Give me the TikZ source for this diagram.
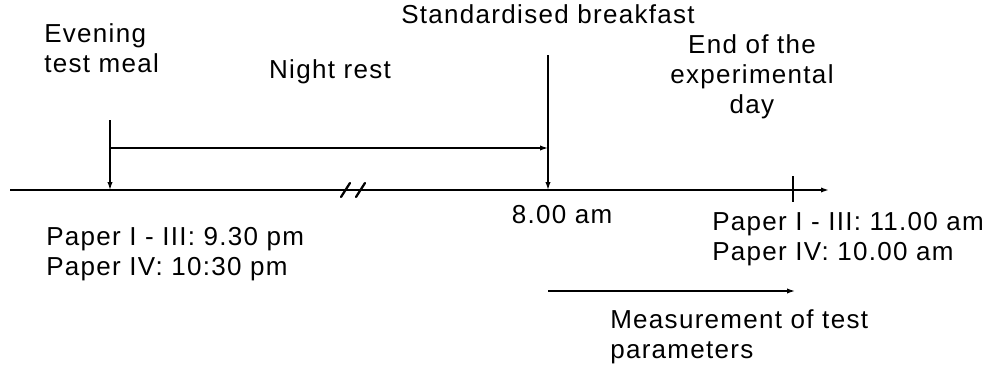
\documentclass[tikz,border=0pt]{standalone}
\usepackage{fontspec}
\setmainfont{Liberation Sans}[LetterSpace=5]
\usepackage{tikz}
\usetikzlibrary{arrows.meta}

\tikzset{
	lab/.style = {font=\fontsize{19.5}{22.5}\selectfont, inner sep=0pt},
	timeline/.style = {line width=1.7pt},
	marker/.style = {line width=1pt},
}

\begin{document}
\begin{tikzpicture}[>={Latex[length=6pt,width=4pt]}, x=0.75pt, y=-0.75pt]
	\useasboundingbox (0,0) rectangle (997,371);
	%%%	Punti
	\coordinate (start) at (10,190);
	\coordinate (stop) at (829,190);
	\coordinate (meal) at (110,190);
	\coordinate (mealtop) at (110,120);
	\coordinate (night) at (110,148);
	\coordinate (bfast) at (548,190);
	\coordinate (bfasttop) at (548,55);
	\coordinate (bfastmid) at (548,148);
	\coordinate (endtop) at (793,176);
	\coordinate (endbot) at (793,202);
	\coordinate (measA) at (548,291);
	\coordinate (measB) at (795,291);
	%%%	Asse del tempo
	\draw[timeline, ->] (start) -- (stop);
	\draw[timeline, line cap=round] (341,197) -- (350,183);
	\draw[timeline, line cap=round] (356,197) -- (365,183);
	%%%	Linee
	\draw[marker, ->] (mealtop) -- (meal);
	\draw[marker, ->] (night) -- (bfastmid);
	\draw[marker, ->] (bfasttop) -- (bfast);
	\draw[marker] (endtop) -- (endbot);
	\draw[marker, ->] (measA) -- (measB);
	%%%	Testi (base = ultima riga)
	\node[lab, anchor=base] (breakfast) at (548,23) {Standardised breakfast};
	\node[lab, anchor=base west, align=left] (evening) at (44,72) {Evening\\test meal};
	\node[lab, anchor=base] (rest) at (330,78) {Night rest};
	\node[lab, anchor=base, align=center] (dayend) at (752,113) {End of the\\experimental\\day};
	\node[lab, anchor=base] (eight) at (562,223) {8.00 am};
	\node[lab, anchor=base west, align=left] (timesA) at (46,275) {Paper I - III: 9.30 pm\\Paper IV: 10:30 pm};
	\node[lab, anchor=base west, align=left] (timesB) at (712,260) {Paper I - III: 11.00 am\\Paper IV: 10.00 am};
	\node[lab, anchor=base west, align=left] (meas) at (610,358) {Measurement of test\\parameters};
\end{tikzpicture}
\end{document}
